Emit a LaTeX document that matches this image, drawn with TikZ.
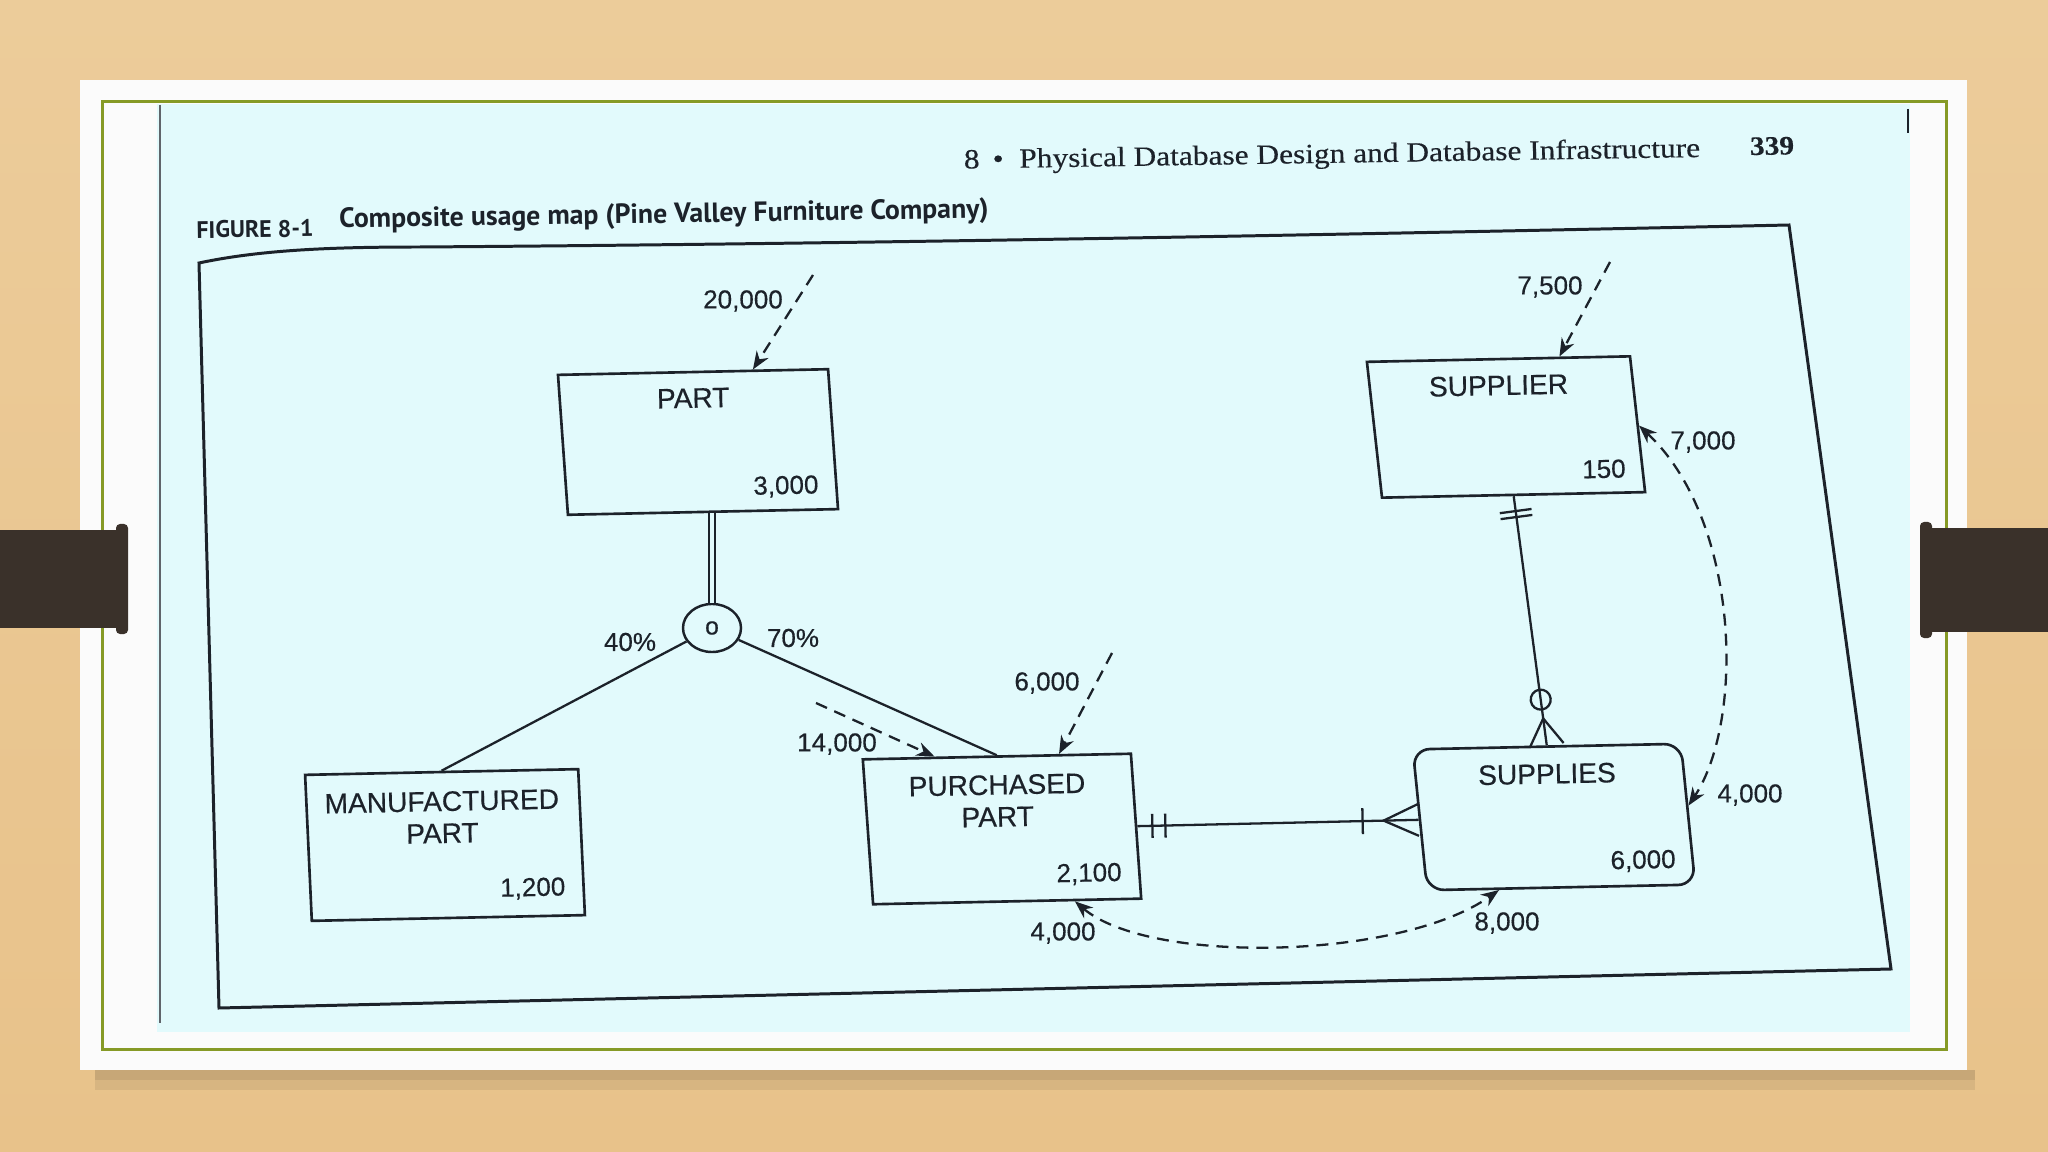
\documentclass[tikz,border=0pt]{standalone}
\usepackage{fontspec}
\setmainfont{Liberation Serif}
\newfontfamily\headfont[FakeBold=0.3]{Liberation Serif}
\newfontfamily\diagfont[FakeBold=0.35]{Liberation Sans}
\newfontfamily\capfont{PT Sans}
\usetikzlibrary{arrows.meta,calc,positioning,shapes.geometric,decorations.markings}

\definecolor{woodtan}{RGB}{232,194,138}
\definecolor{woodlight}{RGB}{236,204,154}
\definecolor{slidewhite}{RGB}{251,251,251}
\definecolor{framegreen}{RGB}{134,154,38}
\definecolor{pagecyan}{RGB}{226,250,252}
\definecolor{barbrown}{RGB}{58,49,42}
\definecolor{ink}{RGB}{28,34,42}

\tikzset{
  entbox/.style={draw=ink, line width=0.75pt, minimum width=2.7cm, minimum height=1.4cm,
    inner sep=0pt, rotate=1.2},
  entname/.style={font=\diagfont\fontsize{8}{9.1}\selectfont, text=ink, align=center,
    inner sep=0pt, rotate=1.2},
  entcount/.style={font=\diagfont\fontsize{7.4}{8}\selectfont, text=ink, inner sep=0pt, rotate=1.2},
  flowtxt/.style={font=\diagfont\fontsize{7.4}{8}\selectfont, text=ink, inner sep=0pt},
  flowarrow/.style={draw=ink, line width=0.65pt, dash pattern=on 0.12cm off 0.08cm,
    -{Stealth[length=0.18cm,width=0.14cm]}},
  flowboth/.style={flowarrow, {Stealth[length=0.18cm,width=0.14cm]}-{Stealth[length=0.18cm,width=0.14cm]}},
  relline/.style={draw=ink, line width=0.65pt},
  tickline/.style={draw=ink, line width=0.65pt, solid},
}

\begin{document}
\begin{tikzpicture}[x=0.01cm, y=-0.01cm]
  \useasboundingbox (0,0) rectangle (2048,1152);
  % slide and background
  \shade[top color=woodlight, bottom color=woodtan] (0,0) rectangle (2048,1152);
  \fill[black, opacity=0.14] (95,1070) rectangle (1975,1080);
  \fill[black, opacity=0.07] (95,1080) rectangle (1975,1090);
  \fill[slidewhite] (80,80) rectangle (1967,1070);
  \fill[pagecyan] (157,104) rectangle (1910,1032);
  \draw[framegreen, line width=0.03cm] (102,102) rectangle (1946,1049);
  \draw[ink!70, line width=0.5pt] (160,105) -- (160,1023);
  \draw[ink, line width=0.6pt] (1908,109) -- (1908,133);
  \fill[barbrown] (0,530) rectangle (124,628);
  \fill[barbrown, rounded corners=0.04cm] (116,524) rectangle (128,634);
  \fill[barbrown] (1924,528) rectangle (2048,632);
  \fill[barbrown, rounded corners=0.04cm] (1920,522) rectangle (1932,638);

  % page head and caption
  \node[font=\headfont\fontsize{7.9}{9}\selectfont, text=ink, rotate=0.9, xscale=1.13] (runhead) at (1332,156)
    {8\, \textbullet\ \ Physical Database Design and Database Infrastructure};
  \node[font=\headfont\fontsize{7.6}{9}\selectfont\bfseries, text=ink, rotate=0.9, xscale=1.1] (pagenum) at (1772,146) {339};
  \node[font=\capfont\bfseries\fontsize{6.8}{8}\selectfont, text=ink, rotate=0.9] (figlabel) at (255,229) {FIGURE 8-1};
  \node[font=\capfont\bfseries\fontsize{7.9}{9}\selectfont, text=ink, rotate=0.9] (figtitle) at (664,216)
    {Composite usage map (Pine Valley Furniture Company)};

  % figure border
  \draw[ink, line width=0.85pt] (199,263) .. controls (260,250) and (330,247) .. (420,247)
    .. controls (700,245) and (1100,240) .. (1789,225) -- (1891,969) -- (219,1008) -- cycle;

  % entities
  \node[entbox, xslant=-0.05] (part) at (698,442) {};
  \node[entname, below=0.17cm of part.north] (partname) {PART};
  \node[entcount, above left=0.13cm and 0.2cm of part.south east] (partcnt) {3,000};

  \node[entbox, xslant=-0.025, minimum width=2.73cm, minimum height=1.46cm] (mp) at (445,845) {};
  \node[entname, below=0.2cm of mp.north] (mpname) {MANUFACTURED\\PART};
  \node[entcount, above left=0.17cm and 0.2cm of mp.south east] (mpcnt) {1,200};

  \node[entbox, xslant=-0.05, minimum width=2.68cm, minimum height=1.45cm] (pp) at (1002,829) {};
  \node[entname, below=0.19cm of pp.north] (ppname) {PURCHASED\\PART};
  \node[entcount, above left=0.15cm and 0.2cm of pp.south east] (ppcnt) {2,100};

  \node[entbox, xslant=-0.09, minimum width=2.63cm, minimum height=1.36cm] (sup) at (1506,427) {};
  \node[entname, below=0.17cm of sup.north] (supname) {SUPPLIER};
  \node[entcount, above left=0.15cm and 0.2cm of sup.south east] (supcnt) {150};

  \node[entbox, xslant=-0.08, minimum width=2.68cm, minimum height=1.41cm, rounded corners=0.17cm] (sups) at (1554,817) {};
  \node[entname, below=0.18cm of sups.north] (supsname) {SUPPLIES};
  \node[entcount, above left=0.14cm and 0.2cm of sups.south east] (supscnt) {6,000};

  % subtype circle
  \node[draw=ink, line width=0.7pt, ellipse, minimum width=0.58cm, minimum height=0.48cm, inner sep=0pt,
    font=\diagfont\fontsize{7}{8}\selectfont, text=ink] (ovl) at (712,628) {o};
  \draw[ink, line width=0.65pt, double=pagecyan, double distance=0.9pt] (ovl.north |- part.south) -- (ovl.north);
  \draw[relline] (ovl) -- (mp.north);
  \draw[relline] (ovl) -- (pp.north);
  \node[flowtxt] (pct40) at (630,642) {40\%};
  \node[flowtxt] (pct70) at (793,638) {70\%};

  % relationships
  \draw[relline, postaction={decorate}, decoration={markings,
      mark=at position 0.15cm with {\draw[tickline] (0,-0.12cm) -- (0,0.12cm);},
      mark=at position 0.28cm with {\draw[tickline] (0,-0.12cm) -- (0,0.12cm);},
      mark=at position -0.56cm with {\draw[tickline] (0,-0.13cm) -- (0,0.13cm);},
      mark=at position -0.35cm with {\draw[tickline] (0.35cm,0.16cm) -- (0,0) -- (0.35cm,-0.16cm);}}]
    (pp.east) -- (sups.west);
  \draw[relline, postaction={decorate}, decoration={markings,
      mark=at position 0.15cm with {\draw[tickline] (0,-0.16cm) -- (0,0.16cm);},
      mark=at position 0.21cm with {\draw[tickline] (0,-0.16cm) -- (0,0.16cm);},
      mark=at position -0.46cm with {\draw[tickline] (0,0) circle (0.1cm);},
      mark=at position -0.27cm with {\draw[tickline] (0.27cm,0.17cm) -- (0,0) -- (0.27cm,-0.17cm);}}]
    (sup.south) -- (sups.north);

  % access flows
  \coordinate (src20) at (813,275);
  \coordinate (src75) at (1610,262);
  \coordinate (src6) at (1112,653);
  \coordinate (src14) at (816,703);
  \draw[flowarrow] (src20) -- ($(part.north west)!0.72!(part.north east)$);
  \draw[flowarrow] (src75) -- ($(sup.north west)!0.73!(sup.north east)$);
  \draw[flowarrow] (src6) -- ($(pp.north west)!0.73!(pp.north east)$);
  \draw[flowarrow] (src14) -- ($(pp.north west)!0.27!(pp.north east)$);
  \draw[flowboth] ($(sup.north east)!0.51!(sup.south east)$) .. controls (1740,520) and (1745,720)
    .. ($(sups.north east)!0.44!(sups.south east)$);
  \draw[flowboth] ($(pp.south west)!0.75!(pp.south east)$) .. controls (1150,965) and (1400,960)
    .. ($(sups.south west)!0.27!(sups.south east)$);

  \node[flowtxt] (lbl20) at (743,301) {20,000};
  \node[flowtxt] (lbl75) at (1550,287) {7,500};
  \node[flowtxt] (lbl70) at (1703,442) {7,000};
  \node[flowtxt] (lbl6) at (1047,683) {6,000};
  \node[flowtxt] (lbl14) at (837,744) {14,000};
  \node[flowtxt] (lbl4r) at (1750,795) {4,000};
  \node[flowtxt] (lbl8) at (1507,923) {8,000};
  \node[flowtxt] (lbl4b) at (1063,933) {4,000};
\end{tikzpicture}
\end{document}
